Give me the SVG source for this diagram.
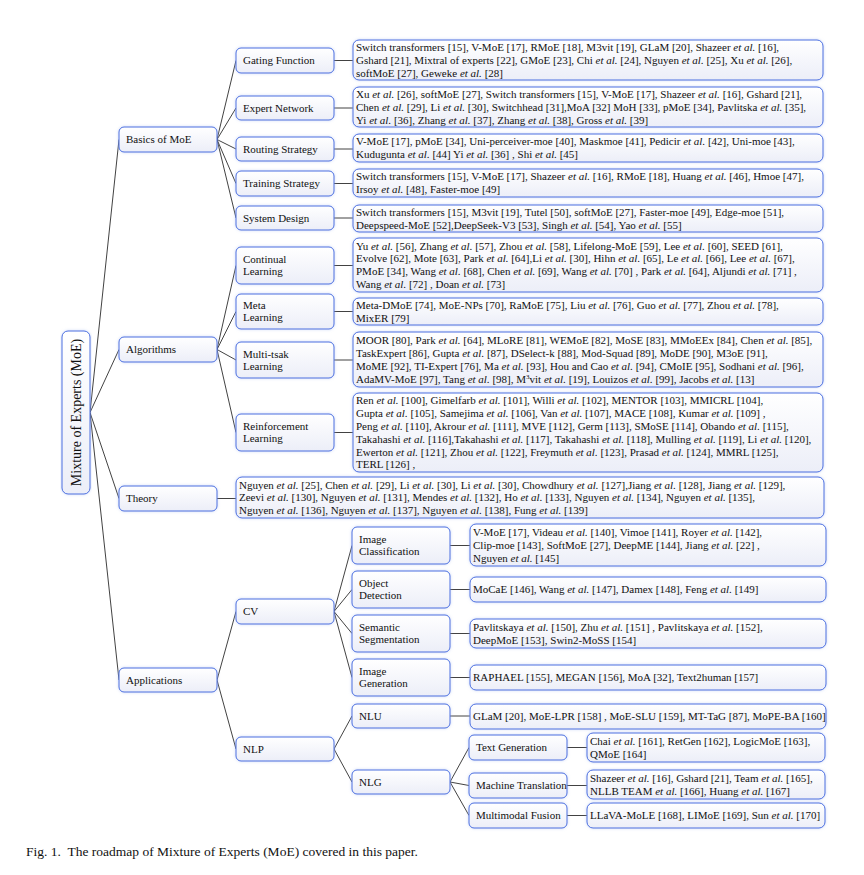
<svg xmlns="http://www.w3.org/2000/svg" width="864" height="875" viewBox="0 0 864 875">
<style>
.bx{fill:url(#gr);stroke:#4a6ee0;stroke-width:1;filter:url(#sh)}
.t{font-family:"Liberation Serif","Times New Roman",serif;font-size:11px;fill:#111}
.r{font-family:"Liberation Serif","Times New Roman",serif;font-size:14px;fill:#111}
.i{font-style:italic}
.e{stroke:#111;stroke-width:0.8;fill:none}
</style>
<defs>
<linearGradient id="gr" x1="0" y1="0" x2="0" y2="1">
<stop offset="0" stop-color="#ffffff"/>
<stop offset="1" stop-color="#eceef8"/>
</linearGradient>
<filter id="sh" x="-5%" y="-25%" width="110%" height="150%">
<feGaussianBlur in="SourceAlpha" stdDeviation="1.6" result="b"/>
<feFlood flood-color="#9fb6ee" flood-opacity="0.55"/>
<feComposite in2="b" operator="in" result="s"/>
<feMerge><feMergeNode in="s"/><feMergeNode in="SourceGraphic"/></feMerge>
</filter>
</defs>
<rect width="864" height="875" fill="#fff"/>

<g id="connectors">
<path class="e" d="M90 412.5L119 139.5M90 412.5L119 349.5M90 412.5L119 498.5M90 412.5L119 680"/>
<path class="e" d="M217 139.5L236 60.5M217 139.5L236 108M217 139.5L236 149M217 139.5L236 183.5M217 139.5L236 218"/>
<path class="e" d="M217 349.5L236 265.5M217 349.5L236 311.5M217 349.5L236 360M217 349.5L236 432.5"/>
<path class="e" d="M217 680L236 611.5M217 680L236 749"/>
<path class="e" d="M334 611.5L352 545.5M334 611.5L352 589.5M334 611.5L352 633.5M334 611.5L352 677.5"/>
<path class="e" d="M334 749L352 716M334 749L352 782"/>
<path class="e" d="M450 782L469 747.5M450 782L469 785.5M450 782L469 815.5"/>
<path class="e" d="M334 60.5H353M334 108H353M334 149H353M334 183.5H353M334 218H353M334 265.5H353M334 311.5H353M334 360H353M334 432.5H353M217 498.5H236M450 545.5H470M450 589.5H470M450 633.5H470M450 677.5H470M450 716H470M567 747.5H587M567 785.5H587M567 815.5H587"/>
</g>

<g id="root"><rect class="bx" x="62" y="331" width="28" height="163" rx="6"/>
<text class="r" transform="translate(76,412.5) rotate(-90)" x="0" y="5" text-anchor="middle">Mixture of Experts (MoE)</text></g>

<g id="basics"><rect class="bx" x="119" y="127" width="98" height="25" rx="5"/><text class="t" x="126" y="143.3">Basics of MoE</text></g>
<g id="algorithms"><rect class="bx" x="119" y="337" width="98" height="25" rx="5"/><text class="t" x="126" y="353.3">Algorithms</text></g>
<g id="theory"><rect class="bx" x="119" y="486" width="98" height="25" rx="5"/><text class="t" x="126" y="502.3">Theory</text></g>
<g id="applications"><rect class="bx" x="119" y="668" width="98" height="24" rx="5"/><text class="t" x="126" y="683.8">Applications</text></g>

<g id="gating"><rect class="bx" x="236" y="48" width="98" height="25" rx="5"/><text class="t" x="243" y="64.3">Gating Function</text></g>
<g id="expert"><rect class="bx" x="236" y="96" width="98" height="24" rx="5"/><text class="t" x="243" y="111.8">Expert Network</text></g>
<g id="routing"><rect class="bx" x="236" y="137" width="98" height="24" rx="5"/><text class="t" x="243" y="152.8">Routing Strategy</text></g>
<g id="training"><rect class="bx" x="236" y="171" width="98" height="25" rx="5"/><text class="t" x="243" y="187.3">Training Strategy</text></g>
<g id="system"><rect class="bx" x="236" y="206" width="98" height="24" rx="5"/><text class="t" x="243" y="221.8">System Design</text></g>
<g id="continual"><rect class="bx" x="236" y="247" width="98" height="37" rx="5"/><text class="t" x="243" y="263.3">Continual</text><text class="t" x="243" y="275.3">Learning</text></g>
<g id="meta"><rect class="bx" x="236" y="294" width="98" height="35" rx="5"/><text class="t" x="243" y="309.3">Meta</text><text class="t" x="243" y="321.3">Learning</text></g>
<g id="multitask"><rect class="bx" x="236" y="342" width="98" height="36" rx="5"/><text class="t" x="243" y="357.8">Multi-tsak</text><text class="t" x="243" y="369.8">Learning</text></g>
<g id="rl"><rect class="bx" x="236" y="414" width="98" height="37" rx="5"/><text class="t" x="243" y="430.3">Reinforcement</text><text class="t" x="243" y="442.3">Learning</text></g>
<g id="cv"><rect class="bx" x="236" y="599" width="98" height="25" rx="5"/><text class="t" x="243" y="615.3">CV</text></g>
<g id="nlp"><rect class="bx" x="236" y="737" width="98" height="24" rx="5"/><text class="t" x="243" y="752.8">NLP</text></g>

<g id="imgcls"><rect class="bx" x="352" y="527" width="98" height="37" rx="5"/><text class="t" x="359" y="543.3">Image</text><text class="t" x="359" y="555.3">Classification</text></g>
<g id="objdet"><rect class="bx" x="352" y="571" width="98" height="37" rx="5"/><text class="t" x="359" y="587.3">Object</text><text class="t" x="359" y="599.3">Detection</text></g>
<g id="semseg"><rect class="bx" x="352" y="615" width="98" height="37" rx="5"/><text class="t" x="359" y="631.3">Semantic</text><text class="t" x="359" y="643.3">Segmentation</text></g>
<g id="imggen"><rect class="bx" x="352" y="659" width="98" height="37" rx="5"/><text class="t" x="359" y="675.3">Image</text><text class="t" x="359" y="687.3">Generation</text></g>
<g id="nlu"><rect class="bx" x="352" y="704" width="98" height="24" rx="5"/><text class="t" x="359" y="719.8">NLU</text></g>
<g id="nlg"><rect class="bx" x="352" y="770" width="98" height="24" rx="5"/><text class="t" x="359" y="785.8">NLG</text></g>

<g id="textgen"><rect class="bx" x="469" y="735" width="98" height="25" rx="5"/><text class="t" x="476" y="751.3">Text Generation</text></g>
<g id="mt"><rect class="bx" x="469" y="773" width="98" height="25" rx="5"/><text class="t" x="476" y="789.3">Machine Translation</text></g>
<g id="mmf"><rect class="bx" x="469" y="803" width="98" height="25" rx="5"/><text class="t" x="476" y="819.3">Multimodal Fusion</text></g>

<g id="leaf-gating"><rect class="bx" x="353" y="40" width="470" height="40" rx="6"/>
<text class="t" x="356" y="51">Switch transformers [15], V-MoE [17], RMoE [18], M3vit [19], GLaM [20], Shazeer <tspan class="i">et al.</tspan> [16],</text>
<text class="t" x="356" y="63.8">Gshard [21], Mixtral of experts [22], GMoE [23], Chi <tspan class="i">et al.</tspan> [24], Nguyen <tspan class="i">et al.</tspan> [25], Xu <tspan class="i">et al.</tspan> [26],</text>
<text class="t" x="356" y="76.6">softMoE [27], Geweke <tspan class="i">et al.</tspan> [28]</text></g>

<g id="leaf-expert"><rect class="bx" x="353" y="87" width="470" height="40" rx="6"/>
<text class="t" x="356" y="98">Xu <tspan class="i">et al.</tspan> [26], softMoE [27], Switch transformers [15], V-MoE [17], Shazeer <tspan class="i">et al.</tspan> [16], Gshard [21],</text>
<text class="t" x="356" y="110.8">Chen <tspan class="i">et al.</tspan> [29], Li <tspan class="i">et al.</tspan> [30], Switchhead [31],MoA [32] MoH [33], pMoE [34], Pavlitska <tspan class="i">et al.</tspan> [35],</text>
<text class="t" x="356" y="123.6">Yi <tspan class="i">et al.</tspan> [36], Zhang <tspan class="i">et al.</tspan> [37], Zhang <tspan class="i">et al.</tspan> [38], Gross <tspan class="i">et al.</tspan> [39]</text></g>

<g id="leaf-routing"><rect class="bx" x="353" y="134" width="470" height="28" rx="6"/>
<text class="t" x="356" y="145.4">V-MoE [17], pMoE [34], Uni-perceiver-moe [40], Maskmoe [41], Pedicir <tspan class="i">et al.</tspan> [42], Uni-moe [43],</text>
<text class="t" x="356" y="158.2">Kudugunta <tspan class="i">et al.</tspan> [44] Yi <tspan class="i">et al.</tspan> [36] , Shi <tspan class="i">et al.</tspan> [45]</text></g>

<g id="leaf-training"><rect class="bx" x="353" y="169" width="470" height="28" rx="6"/>
<text class="t" x="356" y="180.4">Switch transformers [15], V-MoE [17], Shazeer <tspan class="i">et al.</tspan> [16], RMoE [18], Huang <tspan class="i">et al.</tspan> [46], Hmoe [47],</text>
<text class="t" x="356" y="193.2">Irsoy <tspan class="i">et al.</tspan> [48], Faster-moe [49]</text></g>

<g id="leaf-system"><rect class="bx" x="353" y="205" width="470" height="27" rx="6"/>
<text class="t" x="356" y="215.9">Switch transformers [15], M3vit [19], Tutel [50], softMoE [27], Faster-moe [49], Edge-moe [51],</text>
<text class="t" x="356" y="228.7">Deepspeed-MoE [52],DeepSeek-V3 [53], Singh <tspan class="i">et al.</tspan> [54], Yao <tspan class="i">et al.</tspan> [55]</text></g>

<g id="leaf-continual"><rect class="bx" x="353" y="238" width="470" height="54" rx="6"/>
<text class="t" x="356" y="249.6">Yu <tspan class="i">et al.</tspan> [56], Zhang <tspan class="i">et al.</tspan> [57], Zhou <tspan class="i">et al.</tspan> [58], Lifelong-MoE [59], Lee <tspan class="i">et al.</tspan> [60], SEED [61],</text>
<text class="t" x="356" y="262.4">Evolve [62], Mote [63], Park <tspan class="i">et al.</tspan> [64],Li <tspan class="i">et al.</tspan> [30], Hihn <tspan class="i">et al.</tspan> [65], Le <tspan class="i">et al.</tspan> [66], Lee <tspan class="i">et al.</tspan> [67],</text>
<text class="t" x="356" y="275.2">PMoE [34], Wang <tspan class="i">et al.</tspan> [68], Chen <tspan class="i">et al.</tspan> [69], Wang <tspan class="i">et al.</tspan> [70] , Park <tspan class="i">et al.</tspan> [64], Aljundi <tspan class="i">et al.</tspan> [71] ,</text>
<text class="t" x="356" y="288">Wang <tspan class="i">et al.</tspan> [72] , Doan <tspan class="i">et al.</tspan> [73]</text></g>

<g id="leaf-meta"><rect class="bx" x="353" y="298" width="470" height="27" rx="6"/>
<text class="t" x="356" y="308.9">Meta-DMoE [74], MoE-NPs [70], RaMoE [75], Liu <tspan class="i">et al.</tspan> [76], Guo <tspan class="i">et al.</tspan> [77], Zhou <tspan class="i">et al.</tspan> [78],</text>
<text class="t" x="356" y="321.7">MixER [79]</text></g>

<g id="leaf-multitask"><rect class="bx" x="353" y="332" width="470" height="55" rx="6"/>
<text class="t" x="356" y="344.1">MOOR [80], Park <tspan class="i">et al.</tspan> [64], MLoRE [81], WEMoE [82], MoSE [83], MMoEEx [84], Chen <tspan class="i">et al.</tspan> [85],</text>
<text class="t" x="356" y="356.9">TaskExpert [86], Gupta <tspan class="i">et al.</tspan> [87], DSelect-k [88], Mod-Squad [89], MoDE [90], M3oE [91],</text>
<text class="t" x="356" y="369.7">MoME [92], TI-Expert [76], Ma <tspan class="i">et al.</tspan> [93], Hou and Cao <tspan class="i">et al.</tspan> [94], CMoIE [95], Sodhani <tspan class="i">et al.</tspan> [96],</text>
<text class="t" x="356" y="382.5">AdaMV-MoE [97], Tang <tspan class="i">et al.</tspan> [98], M<tspan font-size="7" dy="-4">3</tspan><tspan dy="4">vit </tspan><tspan class="i">et al.</tspan> [19], Louizos <tspan class="i">et al.</tspan> [99], Jacobs <tspan class="i">et al.</tspan> [13]</text></g>

<g id="leaf-rl"><rect class="bx" x="353" y="393" width="470" height="79" rx="6"/>
<text class="t" x="356" y="404.3">Ren <tspan class="i">et al.</tspan> [100], Gimelfarb <tspan class="i">et al.</tspan> [101], Willi <tspan class="i">et al.</tspan> [102], MENTOR [103], MMICRL [104],</text>
<text class="t" x="356" y="417.1">Gupta <tspan class="i">et al.</tspan> [105], Samejima <tspan class="i">et al.</tspan> [106], Van <tspan class="i">et al.</tspan> [107], MACE [108], Kumar <tspan class="i">et al.</tspan> [109] ,</text>
<text class="t" x="356" y="429.9">Peng <tspan class="i">et al.</tspan> [110], Akrour <tspan class="i">et al.</tspan> [111], MVE [112], Germ [113], SMoSE [114], Obando <tspan class="i">et al.</tspan> [115],</text>
<text class="t" x="356" y="442.7">Takahashi <tspan class="i">et al.</tspan> [116],Takahashi <tspan class="i">et al.</tspan> [117], Takahashi <tspan class="i">et al.</tspan> [118], Mulling <tspan class="i">et al.</tspan> [119], Li <tspan class="i">et al.</tspan> [120],</text>
<text class="t" x="356" y="455.5">Ewerton <tspan class="i">et al.</tspan> [121], Zhou <tspan class="i">et al.</tspan> [122], Freymuth <tspan class="i">et al.</tspan> [123], Prasad <tspan class="i">et al.</tspan> [124], MMRL [125],</text>
<text class="t" x="356" y="468.3">TERL [126] ,</text></g>

<g id="leaf-theory"><rect class="bx" x="236" y="477" width="588" height="41" rx="6"/>
<text class="t" x="239" y="488.5">Nguyen <tspan class="i">et al.</tspan> [25], Chen <tspan class="i">et al.</tspan> [29], Li <tspan class="i">et al.</tspan> [30], Li <tspan class="i">et al.</tspan> [30], Chowdhury <tspan class="i">et al.</tspan> [127],Jiang <tspan class="i">et al.</tspan> [128], Jiang <tspan class="i">et al.</tspan> [129],</text>
<text class="t" x="239" y="501.3">Zeevi <tspan class="i">et al.</tspan> [130], Nguyen <tspan class="i">et al.</tspan> [131], Mendes <tspan class="i">et al.</tspan> [132], Ho <tspan class="i">et al.</tspan> [133], Nguyen <tspan class="i">et al.</tspan> [134], Nguyen <tspan class="i">et al.</tspan> [135],</text>
<text class="t" x="239" y="514.1">Nguyen <tspan class="i">et al.</tspan> [136], Nguyen <tspan class="i">et al.</tspan> [137], Nguyen <tspan class="i">et al.</tspan> [138], Fung <tspan class="i">et al.</tspan> [139]</text></g>

<g id="leaf-imgcls"><rect class="bx" x="470" y="524" width="356" height="42" rx="6"/>
<text class="t" x="473" y="536">V-MoE [17], Videau <tspan class="i">et al.</tspan> [140], Vimoe [141], Royer <tspan class="i">et al.</tspan> [142],</text>
<text class="t" x="473" y="548.8">Clip-moe [143], SoftMoE [27], DeepME [144], Jiang <tspan class="i">et al.</tspan> [22] ,</text>
<text class="t" x="473" y="561.6">Nguyen <tspan class="i">et al.</tspan> [145]</text></g>

<g id="leaf-objdet"><rect class="bx" x="470" y="577" width="356" height="25" rx="6"/>
<text class="t" x="473" y="593.3">MoCaE [146], Wang <tspan class="i">et al.</tspan> [147], Damex [148], Feng <tspan class="i">et al.</tspan> [149]</text></g>

<g id="leaf-semseg"><rect class="bx" x="470" y="619" width="356" height="29" rx="6"/>
<text class="t" x="473" y="630.9">Pavlitskaya <tspan class="i">et al.</tspan> [150], Zhu <tspan class="i">et al.</tspan> [151] , Pavlitskaya <tspan class="i">et al.</tspan> [152],</text>
<text class="t" x="473" y="643.7">DeepMoE [153], Swin2-MoSS [154]</text></g>

<g id="leaf-imggen"><rect class="bx" x="470" y="665" width="356" height="25" rx="6"/>
<text class="t" x="473" y="681.3">RAPHAEL [155], MEGAN [156], MoA [32], Text2human [157]</text></g>

<g id="leaf-nlu"><rect class="bx" x="470" y="704" width="356" height="25" rx="6"/>
<text class="t" x="473" y="720.3">GLaM [20], MoE-LPR [158] , MoE-SLU [159], MT-TaG [87], MoPE-BA [160]</text></g>

<g id="leaf-textgen"><rect class="bx" x="587" y="733" width="238" height="29" rx="6"/>
<text class="t" x="590" y="744.9">Chai <tspan class="i">et al.</tspan> [161], RetGen [162], LogicMoE [163],</text>
<text class="t" x="590" y="757.7">QMoE [164]</text></g>

<g id="leaf-mt"><rect class="bx" x="587" y="770" width="238" height="29" rx="6"/>
<text class="t" x="590" y="781.9">Shazeer <tspan class="i">et al.</tspan> [16], Gshard [21], Team <tspan class="i">et al.</tspan> [165],</text>
<text class="t" x="590" y="794.7">NLLB TEAM <tspan class="i">et al.</tspan> [166], Huang <tspan class="i">et al.</tspan> [167]</text></g>

<g id="leaf-mmf"><rect class="bx" x="587" y="803" width="238" height="25" rx="6"/>
<text class="t" x="590" y="819.3">LLaVA-MoLE [168], LIMoE [169], Sun <tspan class="i">et al.</tspan> [170]</text></g>

<text class="t" x="26" y="856" style="font-size:12px" textLength="392" lengthAdjust="spacingAndGlyphs">Fig. 1.&#160; The roadmap of Mixture of Experts (MoE) covered in this paper.</text>
</svg>
